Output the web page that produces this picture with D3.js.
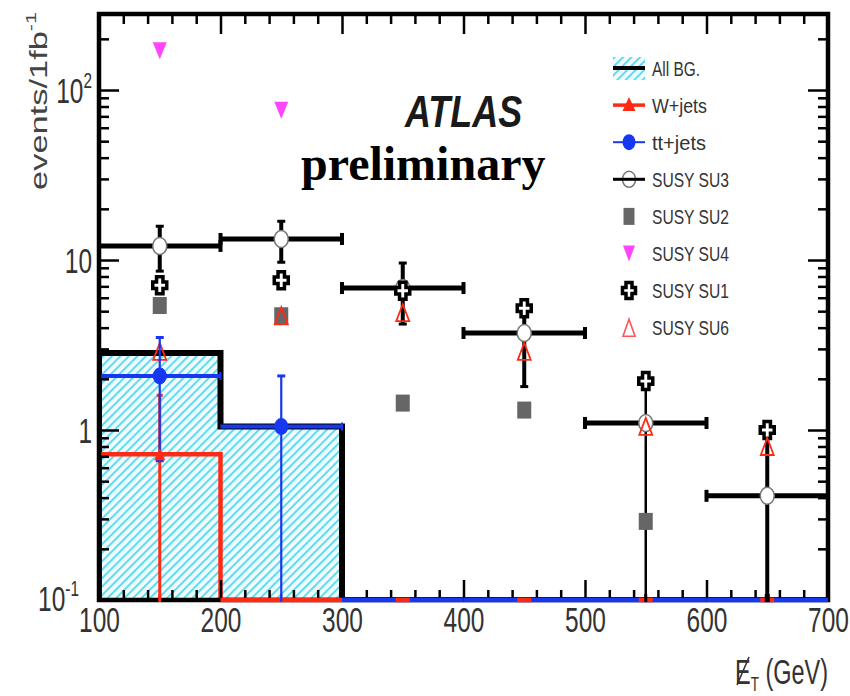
<!DOCTYPE html>
<html><head><meta charset="utf-8">
<script src="https://cdn.jsdelivr.net/npm/d3@7"></script>
<style>body{margin:0;background:#fff}svg{display:block}</style>
</head><body><svg id="c" width="850" height="696"></svg>
<script>
// ---------- data ----------
const binEdges = [100,200,300,400,500,600,700];
const binCenters = [150,250,350,450,550,650];
const allBG = [2.84,1.05,0,0,0,0];
const wJets = [0.72,0,0,0,0,0];
const wJetsErrHi = [1.6,0,0,0,0,0];
const ttJets = [2.08,1.05,0,0,0,0];
const ttJetsErrHi = [3.5,2.08,0,0,0,0];
const ttJetsErrLo = [0.66,0,0,0,0,0];
const su3 = [12.1,13.3,6.84,3.72,1.1,0.41];
const su3ErrHi = [15.8,16.9,9.6,5.6,2.1,1.05];
const su3ErrLo = [8.6,9.7,4.2,1.8,0,0];
const su2 = [5.4,4.7,1.44,1.31,0.29,null];
const su4 = [170,76,null,null,null,null];
const su1 = [7.1,7.6,6.6,5.2,1.94,1.0];
const su6 = [2.9,4.7,4.9,2.9,1.05,0.8];
const xMajorTicks = [100,200,300,400,500,600,700];
const yMajorTicks = [0.1,1,10,100];
const yTickBase = ["10","1","10","10"];
const yTickExp = ["-1","","","2"];
const legendNames = ["All BG.","W+jets","tt+jets","SUSY SU3","SUSY SU2","SUSY SU4","SUSY SU1","SUSY SU6"];

// ---------- setup ----------
const svg = d3.select("#c");
const FONT = "'Liberation Sans', Arial, sans-serif";
const RED = "#ff2a14", BLUE = "#1638f0", MAG = "#ff44ff", GRAY = "#666666", CYAN = "#3fd3ea";
const L = 99, R = 828, T = 14, B = 600;
const x = d3.scaleLinear().domain([100,700]).range([L,R]);
const y = d3.scaleLog().domain([0.1,280]).range([B,T]);
const yv = v => y(Math.max(v,0.1));

const defs = svg.append("defs");
const pat = defs.append("pattern").attr("id","hatch").attr("patternUnits","userSpaceOnUse")
  .attr("width",6).attr("height",6).attr("patternTransform","rotate(45)");
pat.append("rect").attr("width",6).attr("height",6).attr("fill","#effcff");
pat.append("line").attr("x1",1).attr("y1",0).attr("x2",1).attr("y2",6).attr("stroke",CYAN).attr("stroke-width",1.6);
defs.append("clipPath").attr("id","plotclip").append("rect").attr("x",L).attr("y",T).attr("width",R-L).attr("height",B-T);

const plot = svg.append("g").attr("clip-path","url(#plotclip)");

// ---------- All BG hatched histogram ----------
const bgData = allBG.map((v,i)=>({x0:binEdges[i],x1:binEdges[i+1],v}));
plot.selectAll("rect.bg").data(bgData.filter(d=>d.v>0.1)).join("rect")
  .attr("x",d=>x(d.x0)).attr("width",d=>x(d.x1)-x(d.x0))
  .attr("y",d=>yv(d.v)).attr("height",d=>B-yv(d.v))
  .attr("fill","url(#hatch)");

function stepPath(vals){
  const p = d3.path();
  p.moveTo(x(binEdges[0]), B);
  vals.forEach((v,i)=>{ p.lineTo(x(binEdges[i]), yv(v)); p.lineTo(x(binEdges[i+1]), yv(v)); });
  p.lineTo(x(binEdges[binEdges.length-1]), B);
  return p.toString();
}
plot.append("path").attr("d",stepPath(allBG)).attr("fill","none").attr("stroke","#000").attr("stroke-width",6);
plot.append("path").attr("d",stepPath(wJets)).attr("fill","none").attr("stroke",RED).attr("stroke-width",4.5);

// tt+jets horizontal bin lines (non-zero bins)
const ttData = ttJets.map((v,i)=>({x0:binEdges[i],x1:binEdges[i+1],v}));
plot.selectAll("line.tt").data(ttData.filter(d=>d.v>0.1)).join("line")
  .attr("x1",d=>x(d.x0)).attr("x2",d=>x(d.x1)).attr("y1",d=>yv(d.v)).attr("y2",d=>yv(d.v))
  .attr("stroke",BLUE).attr("stroke-width",4);
plot.selectAll("line.ttcap").data(ttData.filter(d=>d.v>0.1)).join("line")
  .attr("x1",d=>x(d.x1)).attr("x2",d=>x(d.x1)).attr("y1",d=>yv(d.v)-4).attr("y2",d=>yv(d.v)+4)
  .attr("stroke",BLUE).attr("stroke-width",2);

// ---------- markers helpers ----------
function ellipse(g,cx,cy,rx,ry,fill,stroke,sw){
  g.append("ellipse").attr("cx",cx).attr("cy",cy).attr("rx",rx).attr("ry",ry)
   .attr("fill",fill).attr("stroke",stroke||"none").attr("stroke-width",sw||0);
}
function rectM(g,cx,cy,w,h,fill){
  g.append("rect").attr("x",cx-w/2).attr("y",cy-h/2).attr("width",w).attr("height",h).attr("fill",fill);
}
function triM(g,cx,cy,w,h,up,fill,stroke,sw){
  const pts = up ? [[cx,cy-h/2],[cx+w/2,cy+h/2],[cx-w/2,cy+h/2]] : [[cx-w/2,cy-h/2],[cx+w/2,cy-h/2],[cx,cy+h/2]];
  g.append("path").attr("d",d3.line()(pts)+"Z").attr("fill",fill).attr("stroke",stroke||"none").attr("stroke-width",sw||0).attr("stroke-linejoin","miter");
}
function crossM(g,cx,cy,hw,hh,a){
  const pts=[[-a,-hh],[a,-hh],[a,-a],[hw,-a],[hw,a],[a,a],[a,hh],[-a,hh],[-a,a],[-hw,a],[-hw,-a],[-a,-a]].map(p=>[cx+p[0],cy+p[1]]);
  g.append("path").attr("d",d3.line()(pts)+"Z").attr("fill","#fff").attr("stroke","#000").attr("stroke-width",3.5).attr("stroke-linejoin","miter");
}
function vbar(g,cx,v0,v1,color,sw,cap){
  g.append("line").attr("x1",cx).attr("x2",cx).attr("y1",yv(v0)).attr("y2",yv(v1)).attr("stroke",color).attr("stroke-width",sw);
  [v0,v1].forEach(v=>{ if(v>0.1) g.append("line").attr("x1",cx-cap).attr("x2",cx+cap).attr("y1",yv(v)).attr("y2",yv(v)).attr("stroke",color).attr("stroke-width",3); });
}

// ---------- SUSY SU3 ----------
const su3g = plot.append("g");
su3.forEach((v,i)=>{
  const yy = yv(v);
  su3g.append("line").attr("x1",x(binEdges[i])).attr("x2",x(binEdges[i+1])).attr("y1",yy).attr("y2",yy).attr("stroke","#000").attr("stroke-width",5);
  [binEdges[i],binEdges[i+1]].forEach(e=>su3g.append("line").attr("x1",x(e)).attr("x2",x(e)).attr("y1",yy-6).attr("y2",yy+6).attr("stroke","#000").attr("stroke-width",4));
  vbar(su3g,x(binCenters[i]),su3ErrLo[i],su3ErrHi[i],"#000",i===4?2.5:4,4);
});
su3.forEach((v,i)=>ellipse(su3g,x(binCenters[i]),yv(v),7,8.5,"#fff","#777",1.5));

// ---------- other SUSY markers ----------
const sg = plot.append("g");
su2.forEach((v,i)=>{ if(v!=null) rectM(sg,x(binCenters[i]),yv(v),14,17,GRAY); });
su4.forEach((v,i)=>{ if(v!=null) triM(sg,x(binCenters[i]),yv(v),14,17,false,MAG); });
su1.forEach((v,i)=>{ if(v!=null) crossM(sg,x(binCenters[i]),yv(v),7,8.5,3.2); });
su6.forEach((v,i)=>{ if(v!=null) triM(sg,x(binCenters[i]),yv(v),13,17,true,"none",RED,1.8); });

// ---------- BG points ----------
const bgp = plot.append("g");
wJets.forEach((v,i)=>{ if(v>0.1){ vbar(bgp,x(binCenters[i]),0,wJetsErrHi[i],RED,3,3); } });
ttJets.forEach((v,i)=>{ if(v>0.1){ vbar(bgp,x(binCenters[i]),ttJetsErrLo[i],ttJetsErrHi[i],BLUE,2.2,4); } });
wJets.forEach((v,i)=>{ if(v>0.1) triM(bgp,x(binCenters[i]),yv(v),11,12,true,RED); });
ttJets.forEach((v,i)=>{ if(v>0.1) ellipse(bgp,x(binCenters[i]),yv(v),7,8.5,BLUE); });

// ---------- axes ----------
function styleAxis(g){ g.select(".domain").remove(); g.selectAll(".tick line").attr("stroke","#000").attr("stroke-width",2.5); }
const xMinor = d3.range(100,701,20).filter(v=>v%100!==0);
const yMinor = [];
[0.1,1,10,100].forEach(d=>{ for(let k=2;k<=9;k++){ if(k*d<=280) yMinor.push(k*d); } });

svg.append("g").attr("transform",`translate(0,${B})`).call(d3.axisBottom(x).tickValues(xMinor).tickSize(-10).tickFormat("")).call(styleAxis);
const xb = svg.append("g").attr("transform",`translate(0,${B})`).call(d3.axisBottom(x).tickValues(xMajorTicks).tickSize(-20).tickPadding(7).tickFormat(d3.format("d"))).call(styleAxis);
xb.selectAll(".tick text").attr("font-family",FONT).attr("font-size",35).attr("fill","#333").attr("transform","scale(0.7,1)");
svg.append("g").attr("transform",`translate(0,${T})`).call(d3.axisTop(x).tickValues(xMinor).tickSize(-10).tickFormat("")).call(styleAxis);
svg.append("g").attr("transform",`translate(0,${T})`).call(d3.axisTop(x).tickValues(xMajorTicks).tickSize(-20).tickFormat("")).call(styleAxis);
svg.append("g").attr("transform",`translate(${L},0)`).call(d3.axisLeft(y).tickValues(yMinor).tickSize(-10).tickFormat("")).call(styleAxis);
svg.append("g").attr("transform",`translate(${L},0)`).call(d3.axisLeft(y).tickValues(yMajorTicks).tickSize(-20).tickFormat("")).call(styleAxis);
svg.append("g").attr("transform",`translate(${R},0)`).call(d3.axisRight(y).tickValues(yMinor).tickSize(-10).tickFormat("")).call(styleAxis);
svg.append("g").attr("transform",`translate(${R},0)`).call(d3.axisRight(y).tickValues(yMajorTicks).tickSize(-20).tickFormat("")).call(styleAxis);

// y tick labels with superscripts
yMajorTicks.forEach((v,i)=>{
  const g = svg.append("g").attr("transform",`translate(${i===0?79:92},${y(v)+(i===0?11:13)}) scale(0.7,1)`);
  const t = g.append("text").attr("text-anchor","end").attr("font-family",FONT).attr("font-size",35).attr("fill","#333");
  t.append("tspan").text(yTickBase[i]);
  if(yTickExp[i]) t.append("tspan").attr("font-size",22).attr("dy",-15).text(yTickExp[i]);
});

// frame
svg.append("rect").attr("x",L).attr("y",T).attr("width",R-L).attr("height",B-T).attr("fill","none").attr("stroke","#000").attr("stroke-width",4.5);

// ---------- zero-valued background bins drawn along the bottom edge ----------
const bot = svg.append("g");
ttData.filter(d=>d.v<=0.1).forEach(d=>{
  bot.append("line").attr("x1",x(d.x0)).attr("x2",x(d.x1)).attr("y1",B).attr("y2",B).attr("stroke",BLUE).attr("stroke-width",4.5);
});
const wData = wJets.map((v,i)=>({x0:binEdges[i],x1:binEdges[i+1],v,i}));
wData.filter(d=>d.v<=0.1).forEach(d=>{
  if(ttJets[d.i]>0.1){
    bot.append("line").attr("x1",x(d.x0)).attr("x2",x(d.x1)).attr("y1",B).attr("y2",B).attr("stroke",RED).attr("stroke-width",4.5);
  } else {
    const c = x(binCenters[d.i]);
    bot.append("line").attr("x1",c-7).attr("x2",c+7).attr("y1",B).attr("y2",B).attr("stroke",RED).attr("stroke-width",4.5);
  }
});
// error bars reaching the bottom edge
ttJets.forEach((v,i)=>{ if(v>0.1 && ttJetsErrLo[i]<=0.1) bot.append("line").attr("x1",x(binCenters[i])).attr("x2",x(binCenters[i])).attr("y1",B-6).attr("y2",B+2).attr("stroke",BLUE).attr("stroke-width",2.2); });
wJets.forEach((v,i)=>{ if(v>0.1) bot.append("line").attr("x1",x(binCenters[i])).attr("x2",x(binCenters[i])).attr("y1",B-6).attr("y2",B+2).attr("stroke",RED).attr("stroke-width",3); });
su3.forEach((v,i)=>{ if(su3ErrLo[i]<=0.1) bot.append("line").attr("x1",x(binCenters[i])).attr("x2",x(binCenters[i])).attr("y1",B-6).attr("y2",B+2).attr("stroke","#000").attr("stroke-width",i===4?3:5); });

// ---------- texts ----------
function fitGroup(parent, tx, ty, targetW, build, rot){
  const g = parent.append("g");
  const t = build(g);
  const bw = t.node().getBBox().width;
  g.attr("transform",`translate(${tx},${ty})${rot?` rotate(${rot})`:""} scale(${targetW/bw},1)`);
  return g;
}
// y-axis title
fitGroup(svg,47,101,178,g=>{
  const t = g.append("text").attr("text-anchor","middle").attr("font-family",FONT).attr("font-size",24).attr("fill","#444");
  t.append("tspan").text("events/1fb");
  t.append("tspan").attr("font-size",15).attr("dy",-11).text("-1");
  return t;
},-90);
// x-axis title
fitGroup(svg,735,684,93,g=>{
  const t = g.append("text").attr("font-family",FONT).attr("font-size",35).attr("fill","#333");
  t.append("tspan").text("E");
  t.append("tspan").attr("font-size",20).attr("dy",7).text("T");
  t.append("tspan").attr("dy",-7).text(" (GeV)");
  g.append("line").attr("x1",3).attr("y1",1).attr("x2",21).attr("y2",-27).attr("stroke","#333").attr("stroke-width",2.2);
  return t;
});
// ATLAS
fitGroup(svg,405,127,118,g=>g.append("text").attr("font-family",FONT).attr("font-size",44).attr("font-weight","bold").attr("font-style","italic").attr("fill","#1a1a1a").text("ATLAS"));
// preliminary
svg.append("text").attr("x",301).attr("y",180).attr("font-family","'Liberation Serif','Times New Roman',serif").attr("font-size",48).attr("font-weight","bold").attr("fill","#000").text("preliminary");

// ---------- legend ----------
const lg = svg.append("g");
legendNames.forEach((name,i)=>{
  const cy = 68 + i*37.1, cx = 629;
  const g = lg.append("g");
  if(i===0){
    g.append("rect").attr("x",613).attr("y",cy-11).attr("width",32).attr("height",23).attr("fill","url(#hatch)");
    g.append("line").attr("x1",613).attr("x2",645).attr("y1",cy).attr("y2",cy).attr("stroke","#000").attr("stroke-width",4);
  } else if(i===1){
    g.append("line").attr("x1",613).attr("x2",645).attr("y1",cy).attr("y2",cy).attr("stroke",RED).attr("stroke-width",3.5);
    triM(g,cx,cy-1,13,14,true,RED);
  } else if(i===2){
    g.append("line").attr("x1",613).attr("x2",645).attr("y1",cy).attr("y2",cy).attr("stroke",BLUE).attr("stroke-width",2);
    ellipse(g,cx,cy,6.5,8,BLUE);
  } else if(i===3){
    ellipse(g,cx,cy,6.5,8,"#fff","#777",1.5);
    g.append("line").attr("x1",613).attr("x2",645).attr("y1",cy).attr("y2",cy).attr("stroke","#000").attr("stroke-width",3);
  } else if(i===4){
    rectM(g,cx,cy,11,17,GRAY);
  } else if(i===5){
    triM(g,cx,cy,12,16,false,MAG);
  } else if(i===6){
    crossM(g,cx,cy,6.5,8,3);
  } else {
    triM(g,cx,cy,12,17,true,"none","#ff5555",1.6);
  }
  const w = {0:48,1:55,2:54}[i] || 77;
  fitGroup(lg,652,cy+7.5,w,gg=>gg.append("text").attr("font-family",FONT).attr("font-size",20).attr("fill","#333").text(name));
});
</script></body></html>
